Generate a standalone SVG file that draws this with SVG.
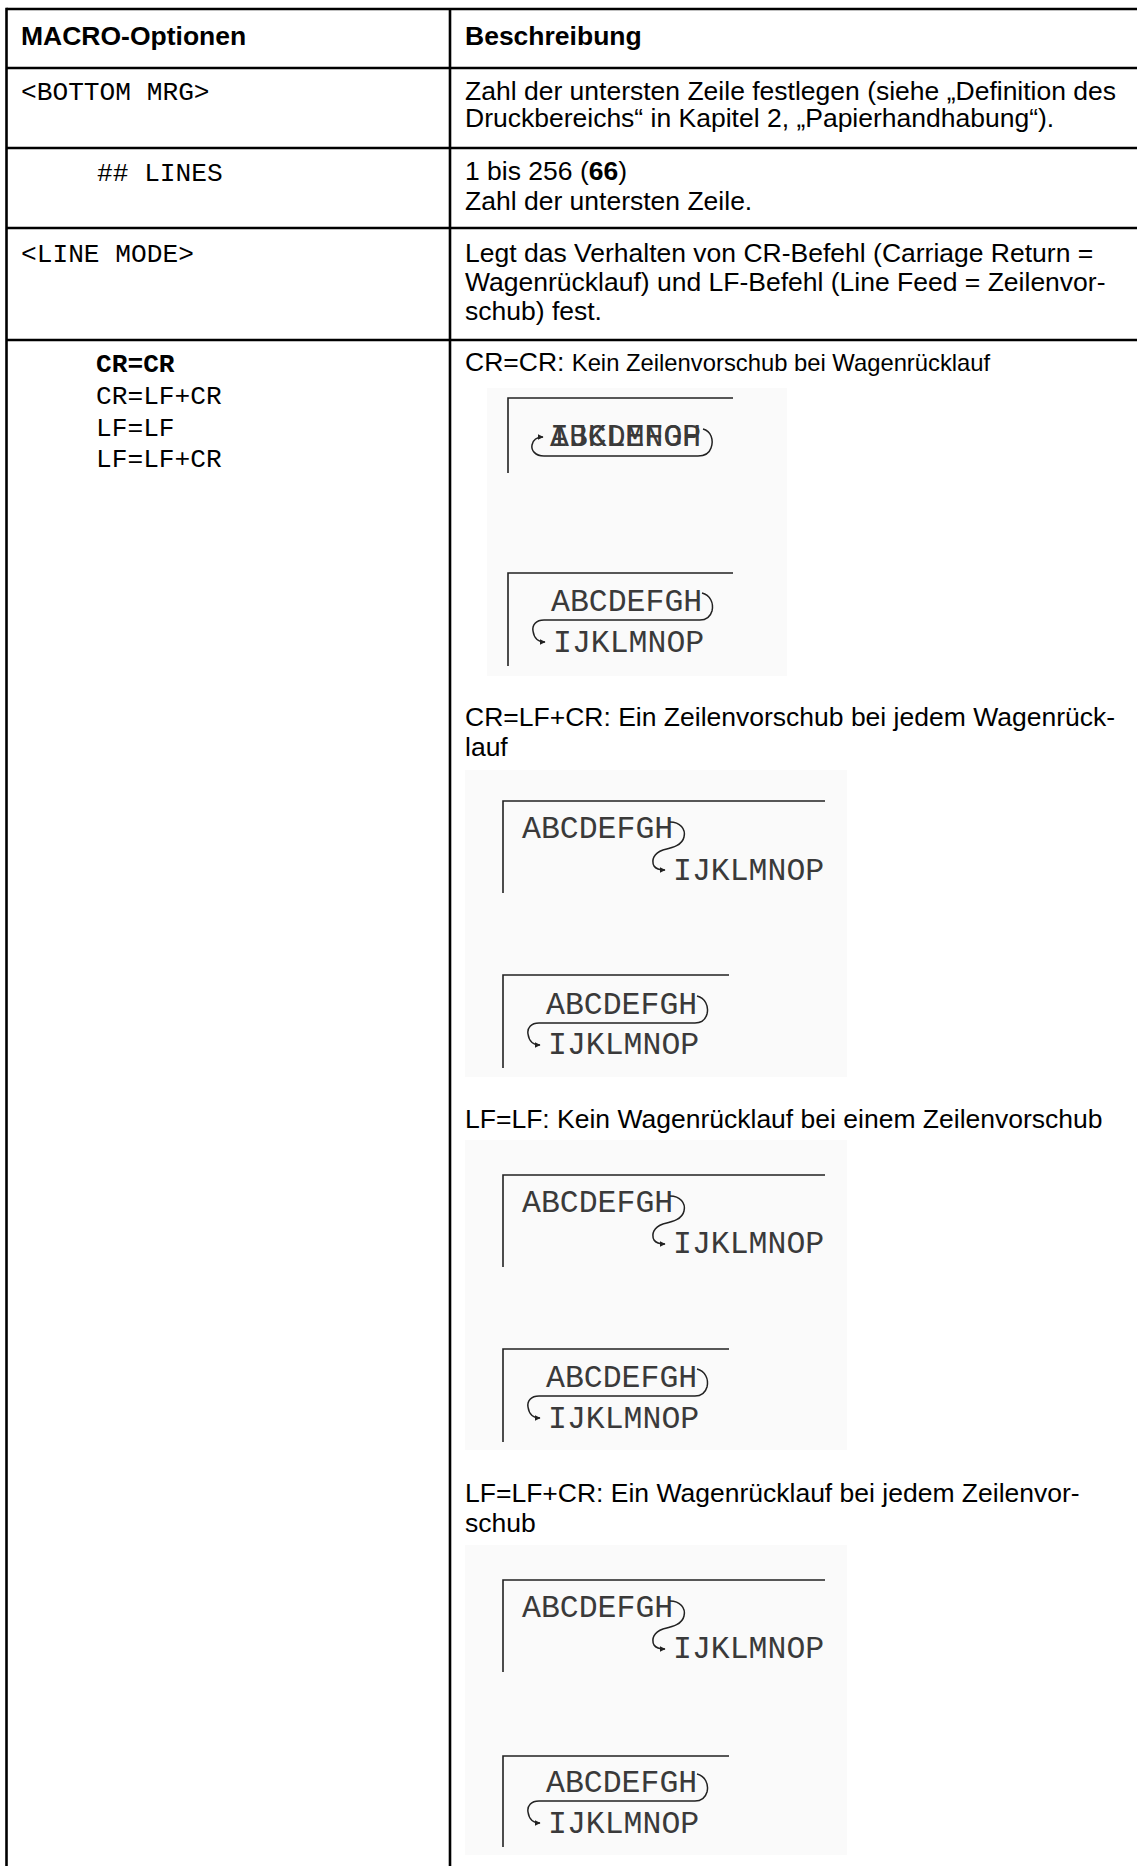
<svg xmlns="http://www.w3.org/2000/svg" width="1137" height="1866" viewBox="0 0 1137 1866">
<defs>
<style>
.grid{stroke:#000;stroke-width:2.6;fill:none}
.sans{font-family:"Liberation Sans",Arial,sans-serif;font-size:26.5px;fill:#000}
.small{font-size:23.8px}
.b{font-weight:bold}
.mono{font-family:"Liberation Mono","Courier New",monospace;font-size:26.2px;fill:#000}
.ill{font-family:"Liberation Mono","Courier New",monospace;font-size:31.5px;fill:#3a3a3a}
.bg{fill:#fafafa}
.frame{stroke:#222;stroke-width:1.6;fill:none}
.curve{stroke:#222;stroke-width:1.5;fill:none;marker-end:url(#ah)}
</style>
<marker id="ah" viewBox="0 0 10 10" refX="9" refY="5" markerWidth="6" markerHeight="6" markerUnits="userSpaceOnUse" orient="auto">
<path d="M0,0 L10,5 L0,10 Z" fill="#222"/>
</marker>
</defs>
<rect width="1137" height="1866" fill="#fff"/>

<g id="table-lines" class="grid">
<line x1="6.5" y1="9" x2="1137" y2="9"/>
<line x1="6.5" y1="7.7" x2="6.5" y2="1866"/>
<line x1="450" y1="9" x2="450" y2="1866"/>
<line x1="6.5" y1="68" x2="1137" y2="68"/>
<line x1="6.5" y1="148" x2="1137" y2="148"/>
<line x1="6.5" y1="228" x2="1137" y2="228"/>
<line x1="6.5" y1="340" x2="1137" y2="340"/>
</g>

<g id="header">
<text class="sans b" x="21" y="45">MACRO-Optionen</text>
<text class="sans b" x="465" y="45">Beschreibung</text>
</g>

<g id="row-bottom-mrg">
<text class="mono" x="21" y="100">&lt;BOTTOM MRG&gt;</text>
<text class="sans" x="465" y="100">Zahl der untersten Zeile festlegen (siehe „Definition des</text>
<text class="sans" x="465" y="127">Druckbereichs“ in Kapitel 2, „Papierhandhabung“).</text>
</g>

<g id="row-lines">
<text class="mono" x="97" y="181">## LINES</text>
<text class="sans" x="465" y="180">1 bis 256 (<tspan class="b">66</tspan>)</text>
<text class="sans" x="465" y="210">Zahl der untersten Zeile.</text>
</g>

<g id="row-line-mode">
<text class="mono" x="21" y="262">&lt;LINE MODE&gt;</text>
<text class="sans" x="465" y="262">Legt das Verhalten von CR-Befehl (Carriage Return =</text>
<text class="sans" x="465" y="291">Wagenrücklauf) und LF-Befehl (Line Feed = Zeilenvor-</text>
<text class="sans" x="465" y="320">schub) fest.</text>
</g>

<g id="row-options">
<text class="mono b" x="96" y="372">CR=CR</text>
<text class="mono" x="96" y="404">CR=LF+CR</text>
<text class="mono" x="96" y="436">LF=LF</text>
<text class="mono" x="96" y="467">LF=LF+CR</text>
</g>

<g id="desc-cr-cr">
<text class="sans" x="465" y="371">CR=CR: <tspan class="small">Kein Zeilenvorschub bei Wagenrücklauf</tspan></text>
<rect class="bg" x="487" y="388" width="300" height="288"/>
<g transform="translate(508,398)">
<path class="frame" d="M0,75 V0 H225"/>
<text class="ill" x="42" y="47.5">ABCDEFGH</text>
<text class="ill" x="42" y="47.5">IJKLMNOP</text>
<path class="curve" d="M195,31 C203,33 206,42 203,50 C201,56 197,58 190,58 L36,58 C27,58 23,52 24,47 C25,42 28,39 35,39"/>
</g>
<g transform="translate(508,573)">
<path class="frame" d="M0,93 V0 H225"/>
<text class="ill" x="43" y="38">ABCDEFGH</text>
<text class="ill" x="45" y="79">IJKLMNOP</text>
<path class="curve" d="M194,20 C202,22 206,30 204,38 C202,45 198,47 192,47 L36,47 C28,47 24,52 25,58 C26,65 30,69 37,69"/>
</g>
</g>

<g id="desc-cr-lf-cr">
<text class="sans" x="465" y="726">CR=LF+CR: Ein Zeilenvorschub bei jedem Wagenrück-</text>
<text class="sans" x="465" y="756">lauf</text>
<rect class="bg" x="465" y="770" width="382" height="307"/>
<g transform="translate(503,801)">
<path class="frame" d="M0,92 V0 H322"/>
<text class="ill" x="19" y="37">ABCDEFGH</text>
<path class="curve" d="M167,21 C177,21 183,28 181,36 C179,45 168,47 160,49 C151,52 148,59 151,65 C153,68 156,69 162,69"/>
<text class="ill" x="170" y="79">IJKLMNOP</text>
</g>
<g transform="translate(503,975)">
<path class="frame" d="M0,93 V0 H226"/>
<text class="ill" x="43" y="39">ABCDEFGH</text>
<text class="ill" x="45" y="79">IJKLMNOP</text>
<path class="curve" d="M194,21 C202,23 206,31 204,39 C202,46 198,48 192,48 L36,48 C28,48 24,53 25,59 C26,66 30,70 37,70"/>
</g>
</g>

<g id="desc-lf-lf">
<text class="sans" x="465" y="1128">LF=LF: Kein Wagenrücklauf bei einem Zeilenvorschub</text>
<rect class="bg" x="465" y="1140" width="382" height="310"/>
<g transform="translate(503,1175)">
<path class="frame" d="M0,92 V0 H322"/>
<text class="ill" x="19" y="37">ABCDEFGH</text>
<path class="curve" d="M167,21 C177,21 183,28 181,36 C179,45 168,47 160,49 C151,52 148,59 151,65 C153,68 156,69 162,69"/>
<text class="ill" x="170" y="78">IJKLMNOP</text>
</g>
<g transform="translate(503,1349)">
<path class="frame" d="M0,93 V0 H226"/>
<text class="ill" x="43" y="38">ABCDEFGH</text>
<text class="ill" x="45" y="79">IJKLMNOP</text>
<path class="curve" d="M194,20 C202,22 206,30 204,38 C202,45 198,47 192,47 L36,47 C28,47 24,52 25,58 C26,65 30,69 37,69"/>
</g>
</g>

<g id="desc-lf-lf-cr">
<text class="sans" x="465" y="1502">LF=LF+CR: Ein Wagenrücklauf bei jedem Zeilenvor-</text>
<text class="sans" x="465" y="1532">schub</text>
<rect class="bg" x="465" y="1545" width="382" height="310"/>
<g transform="translate(503,1580)">
<path class="frame" d="M0,92 V0 H322"/>
<text class="ill" x="19" y="37">ABCDEFGH</text>
<path class="curve" d="M167,21 C177,21 183,28 181,36 C179,45 168,47 160,49 C151,52 148,59 151,65 C153,68 156,69 162,69"/>
<text class="ill" x="170" y="78">IJKLMNOP</text>
</g>
<g transform="translate(503,1756)">
<path class="frame" d="M0,91 V0 H226"/>
<text class="ill" x="43" y="36">ABCDEFGH</text>
<text class="ill" x="45" y="77">IJKLMNOP</text>
<path class="curve" d="M194,18 C202,20 206,28 204,36 C202,43 198,45 192,45 L36,45 C28,45 24,50 25,56 C26,63 30,67 37,67"/>
</g>
</g>
</svg>
